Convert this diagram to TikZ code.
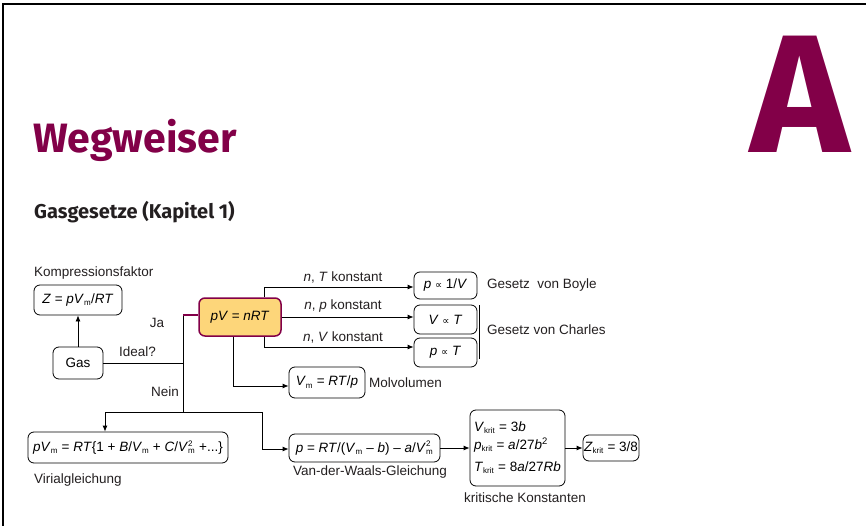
\documentclass[tikz,border=0pt]{standalone}
\usepackage{fontspec}
\setmainfont{Liberation Sans}
\newfontfamily\titlefont{Fira Sans}
\newfontfamily\symfont{DejaVu Sans}
\usetikzlibrary{arrows.meta,calc}
\definecolor{wpurple}{RGB}{130,0,72}
\definecolor{worange}{RGB}{253,214,122}
\definecolor{wtext}{RGB}{35,31,32}
\newcommand\sbs[1]{\textsubscript{\fontsize{8}{8}\selectfont #1}}
\newcommand\Vsq{\textit{V}\rlap{\textsuperscript{\fontsize{8}{8}\selectfont 2}}\textsubscript{\fontsize{8}{8}\selectfont m}}
\newcommand\prop{{\symfont\fontsize{10}{10}\selectfont ∝}}
\begin{document}
\begin{tikzpicture}[x=1pt,y=-1pt,
  font=\fontsize{13.5}{16}\selectfont,
  box/.style={draw=black, line width=0.8pt, rounded corners=6pt, inner sep=0pt, align=center},
  conn/.style={line width=0.8pt, draw=black},
  arr/.style={conn, -{Latex[length=6pt,width=5pt]}},
  lbl/.style={inner sep=0pt, text=wtext}]
\useasboundingbox (0,0) rectangle (866,526);
\draw[line width=1.5pt] (3,526) -- (3,4) -- (866,4);

% titles
\node[lbl, anchor=base west, text=wpurple, font=\titlefont\bfseries\fontsize{41}{41}\selectfont] (title) at (33,153) {Wegweiser};
\node[lbl, anchor=base west, font=\titlefont\bfseries\fontsize{20}{20}\selectfont] (sub) at (34,219) {Gasgesetze (Kapitel 1)};
\node[lbl, anchor=base, text=wpurple, font=\titlefont\bfseries\fontsize{168}{168}\selectfont] (bigA) at (800,153) {A};

% boxes
\node[box, minimum width=88pt, minimum height=30pt] (Z) at (78,300) {\textit{Z} = \textit{pV}\sbs{m}/\textit{RT}};
\node[box, minimum width=50pt, minimum height=32pt] (gas) at (78,363) {Gas};
\node[box, draw=wpurple, fill=worange, line width=1.5pt, minimum width=82pt, minimum height=38pt] (pV) at (240,317) {\textit{pV} = \textit{nRT}};
\node[box, minimum width=63pt, minimum height=27pt] (boyle) at (445.5,285.5) {\textit{p} \prop{} 1/\textit{V}};
\node[box, minimum width=63pt, minimum height=29pt] (chV) at (445.5,319.5) {\textit{V} \prop{} \textit{T}};
\node[box, minimum width=63pt, minimum height=29pt] (chp) at (445.5,352.5) {\textit{p} \prop{} \textit{T}};
\node[box, minimum width=76pt, minimum height=31pt] (Vm) at (327,382.5) {\textit{V}\sbs{m} = \textit{RT}/\textit{p}};
\node[box, minimum width=200pt, minimum height=31pt] (vir) at (128,447.5) {\textit{pV}\sbs{m} = \textit{RT}\{1 + \textit{B}/\textit{V}\sbs{m} + \textit{C}/\Vsq{} +...\}};
\node[box, minimum width=151pt, minimum height=28pt] (vdw) at (364.5,448) {\textit{p} = \textit{RT}/(\textit{V}\sbs{m} -- \textit{b}) -- \textit{a}/\Vsq};
\node[box, minimum width=95pt, minimum height=76pt, align=left] (crit) at (517.5,448)
  {\textit{V}\sbs{krit} = 3\textit{b}\\[2pt]
   \textit{p}\sbs{krit} = \textit{a}/27\textit{b}\textsuperscript{2}\\[6pt]
   \textit{T}\sbs{krit} = 8\textit{a}/27\textit{Rb}};
\node[box, minimum width=56pt, minimum height=26pt] (zk) at (611,448) {\textit{Z}\sbs{krit} = 3/8};

% labels
\node[lbl, anchor=west] (kf) at (34,273) {Kompressionsfaktor};
\node[lbl] (ja) at (157,323) {Ja};
\node[lbl] (ideal) at (137.5,352) {Ideal?};
\node[lbl] (nein) at (165,392) {Nein};
\node[lbl] (nT) at (343,277) {\textit{n}, \textit{T} konstant};
\node[lbl] (np) at (343,306) {\textit{n}, \textit{p} konstant};
\node[lbl] (nV) at (343,337) {\textit{n}, \textit{V} konstant};
\node[lbl, anchor=west] (gb) at (487,285) {Gesetz\ \ von Boyle};
\node[lbl, anchor=west] (gc) at (487,330) {Gesetz von Charles};
\node[lbl, anchor=west] (mv) at (369,383) {Molvolumen};
\node[lbl, anchor=west] (vg) at (34,480) {Virialgleichung};
\node[lbl] (vwg) at (370,472) {Van-der-Waals-Gleichung};
\node[lbl] (kk) at (525,498) {kritische Konstanten};

% junction coordinates
\coordinate (jtop) at (183,315);
\coordinate (jmid) at (183,363);
\coordinate (jbot) at (183,412);
\coordinate (bx) at (264,287);
\coordinate (bxb) at (264,347);
\coordinate (vl) at (105,412);
\coordinate (vr) at (262,412);
\coordinate (vwd) at (262,449);
\coordinate (mvd) at (233,386);
\coordinate (chT) at (479,305);
\coordinate (chB) at (479,359);

% connectors
\draw[arr] (gas.north) -- (Z.south);
\draw[conn] (gas.east) -- (jmid);
\draw[conn] (jtop) -- (jbot);
\draw[conn, draw=wpurple, line width=1.2pt] (jtop) -- (pV.west |- jtop);
\draw[arr] (bx |- pV.north) -- (bx) -- (boyle.west |- bx);
\draw[arr] (pV.east) -- (chV.west |- pV.east);
\draw[arr] (bxb |- pV.south) -- (bxb) -- (chp.west |- bxb);
\draw[arr] (mvd |- pV.south) -- (mvd) -- (Vm.west |- mvd);
\draw[arr] (jbot) -- (vl) -- (vl |- vir.north);
\draw[arr] (jbot) -- (vr) -- (vwd) -- (vdw.west |- vwd);
\draw[arr] (vdw.east) -- (crit.west |- vdw.east);
\draw[arr] (crit.east |- zk.west) -- (zk.west);
\draw[conn] (chT) -- (chB);
\end{tikzpicture}
\end{document}
